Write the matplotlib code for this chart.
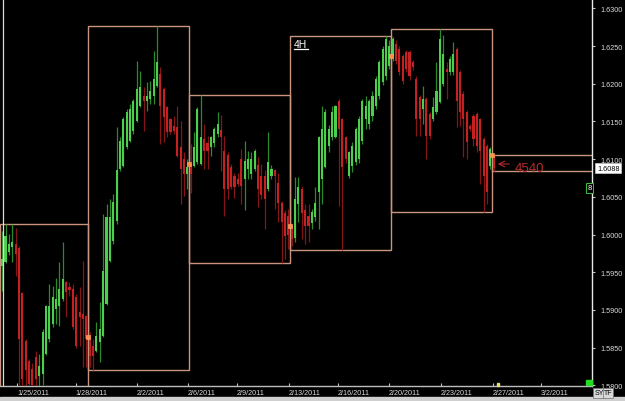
import matplotlib
matplotlib.use('Agg')
import matplotlib.pyplot as plt
from matplotlib.patches import Rectangle
from matplotlib import font_manager
from matplotlib.transforms import blended_transform_factory
import numpy as np

# ---------------- data (4H GBP/USD-style candles) ----------------
opens = [
    1.5958, 1.5964, 1.5977, 1.5983, 1.5987, 1.5982, 1.5922, 1.5859, 1.5832, 1.5822,
    1.5838, 1.5812, 1.5815, 1.5842, 1.5861, 1.5881, 1.5901, 1.5905, 1.5914, 1.5937,
    1.5931, 1.5928, 1.5917, 1.5897, 1.5895, 1.5892,
    1.5864, 1.5852, 1.5846, 1.5857, 1.5866, 1.5908, 1.5965, 1.5991, 1.6018, 1.6087,
    1.6091, 1.6116, 1.6124, 1.6137, 1.6150, 1.6170, 1.6184, 1.6177, 1.6180, 1.6184,
    1.6197, 1.6213, 1.6193, 1.6169, 1.6153, 1.6144, 1.6142, 1.6116, 1.6100, 1.6080,
    1.6094, 1.6091, 1.6096, 1.6093, 1.6127, 1.6122, 1.6116, 1.6122, 1.6134, 1.6138,
    1.6111, 1.6106, 1.6090, 1.6078, 1.6073, 1.6100, 1.6074, 1.6087, 1.6080, 1.6087,
    1.6092, 1.6078, 1.6078, 1.6060, 1.6078, 1.6085, 1.6069, 1.6042, 1.6029, 1.6025,
    1.6011, 1.5996, 1.6040, 1.6060, 1.6033, 1.6025, 1.6015, 1.6023, 1.6056, 1.6073,
    1.6090, 1.6117, 1.6130, 1.6130, 1.6177, 1.6153, 1.6129, 1.6077, 1.6091, 1.6096,
    1.6100, 1.6124, 1.6153, 1.6146, 1.6157, 1.6170, 1.6184, 1.6202, 1.6210, 1.6224,
    1.6237, 1.6253, 1.6246, 1.6237, 1.6242, 1.6242, 1.6229, 1.6206, 1.6182, 1.6166,
    1.6180, 1.6160, 1.6153, 1.6162, 1.6176, 1.6200, 1.6220, 1.6216, 1.6216, 1.6246,
    1.6216, 1.6186, 1.6162, 1.6144, 1.6157, 1.6160, 1.6153, 1.6127, 1.6117, 1.6091,
    1.6105,
]
highs = [
    1.6005, 1.6014, 1.6001, 1.6014, 1.6009, 1.5985, 1.5924, 1.5862, 1.5835, 1.5830,
    1.5845, 1.5842, 1.5875, 1.5907, 1.5934, 1.5932, 1.5942, 1.5964, 1.5990, 1.5938,
    1.5937, 1.5934, 1.5921, 1.5930, 1.5965, 1.5893,
    1.5871, 1.5861, 1.5884, 1.5910, 1.6027, 1.6040, 1.6047, 1.6054, 1.6142, 1.6129,
    1.6156, 1.6166, 1.6173, 1.6180, 1.6230, 1.6217, 1.6196, 1.6202, 1.6203, 1.6243,
    1.6277, 1.6222, 1.6196, 1.6170, 1.6155, 1.6157, 1.6170, 1.6150, 1.6110, 1.6100,
    1.6120, 1.6136, 1.6169, 1.6185, 1.6147, 1.6131, 1.6131, 1.6142, 1.6162, 1.6158,
    1.6131, 1.6109, 1.6093, 1.6081, 1.6081, 1.6113, 1.6124, 1.6111, 1.6109, 1.6113,
    1.6103, 1.6094, 1.6085, 1.6136, 1.6092, 1.6087, 1.6082, 1.6045, 1.6032, 1.6034,
    1.6015, 1.6076, 1.6076, 1.6064, 1.6040, 1.6040, 1.6034, 1.6063, 1.6131, 1.6170,
    1.6166, 1.6145, 1.6170, 1.6172, 1.6180, 1.6155, 1.6131, 1.6111, 1.6123, 1.6143,
    1.6157, 1.6180, 1.6184, 1.6180, 1.6190, 1.6210, 1.6232, 1.6250, 1.6263, 1.6258,
    1.6262, 1.6258, 1.6250, 1.6240, 1.6245, 1.6245, 1.6232, 1.6210, 1.6185, 1.6197,
    1.6182, 1.6162, 1.6183, 1.6229, 1.6273, 1.6264, 1.6229, 1.6237, 1.6255, 1.6249,
    1.6218, 1.6190, 1.6165, 1.6147, 1.6160, 1.6163, 1.6155, 1.6130, 1.6120, 1.6116,
    1.6106,
]
lows = [
    1.5925, 1.5962, 1.5973, 1.5964, 1.5945, 1.5800, 1.5795, 1.5795, 1.5790, 1.5790,
    1.5795, 1.5798, 1.5800, 1.5840, 1.5858, 1.5878, 1.5881, 1.5879, 1.5912, 1.5891,
    1.5918, 1.5875, 1.5850, 1.5852, 1.5824, 1.5824,
    1.5824, 1.5820, 1.5844, 1.5831, 1.5864, 1.5906, 1.5963, 1.5988, 1.6014, 1.6084,
    1.6090, 1.6113, 1.6123, 1.6134, 1.6149, 1.6169, 1.6137, 1.6164, 1.6173, 1.6173,
    1.6196, 1.6120, 1.6123, 1.6129, 1.6133, 1.6133, 1.6103, 1.6040, 1.6051, 1.6060,
    1.6055, 1.6090, 1.6094, 1.6092, 1.6087, 1.6087, 1.6104, 1.6116, 1.6130, 1.6084,
    1.6025, 1.6047, 1.6060, 1.6049, 1.6065, 1.6040, 1.6032, 1.6074, 1.6074, 1.6084,
    1.6036, 1.6047, 1.6007, 1.6058, 1.6074, 1.6034, 1.6016, 1.5962, 1.5968, 1.5981,
    1.5985, 1.5990, 1.6017, 1.5994, 1.5987, 1.5990, 1.6007, 1.6018, 1.6007, 1.6040,
    1.6088, 1.6110, 1.6125, 1.6128, 1.6038, 1.5980, 1.6095, 1.6075, 1.6083, 1.6092,
    1.6095, 1.6120, 1.6140, 1.6140, 1.6150, 1.6166, 1.6180, 1.6198, 1.6205, 1.6220,
    1.6230, 1.6226, 1.6212, 1.6200, 1.6215, 1.6205, 1.6218, 1.6131, 1.6131, 1.6147,
    1.6100, 1.6127, 1.6150, 1.6160, 1.6174, 1.6197, 1.6180, 1.6212, 1.6212, 1.6143,
    1.6144, 1.6103, 1.6100, 1.6137, 1.6117, 1.6109, 1.6067, 1.6030, 1.6040, 1.6087,
    1.6084,
]
closes = [
    1.5968, 1.5998, 1.5987, 1.5990, 1.5974, 1.5861, 1.5808, 1.5820, 1.5802, 1.5800,
    1.5808, 1.5826, 1.5871, 1.5905, 1.5905, 1.5917, 1.5914, 1.5928, 1.5941, 1.5924,
    1.5926, 1.5877, 1.5852, 1.5891, 1.5888, 1.5861,
    1.5839, 1.5839, 1.5866, 1.5875, 1.5952, 1.6023, 1.6023, 1.6043, 1.6085, 1.6124,
    1.6153, 1.6162, 1.6166, 1.6177, 1.6193, 1.6196, 1.6177, 1.6184, 1.6191, 1.6206,
    1.6229, 1.6170, 1.6156, 1.6136, 1.6136, 1.6137, 1.6104, 1.6087, 1.6080, 1.6090,
    1.6080, 1.6116, 1.6166, 1.6130, 1.6111, 1.6111, 1.6129, 1.6140, 1.6147, 1.6129,
    1.6060, 1.6060, 1.6063, 1.6063, 1.6067, 1.6065, 1.6098, 1.6100, 1.6100, 1.6111,
    1.6060, 1.6052, 1.6047, 1.6096, 1.6087, 1.6078, 1.6042, 1.6016, 1.5998, 1.6000,
    1.5994, 1.6047, 1.6063, 1.6029, 1.6011, 1.6011, 1.6030, 1.6042, 1.6130, 1.6140,
    1.6162, 1.6140, 1.6162, 1.6170, 1.6140, 1.6090, 1.6100, 1.6109, 1.6117, 1.6140,
    1.6153, 1.6177, 1.6170, 1.6177, 1.6184, 1.6206, 1.6229, 1.6246, 1.6259, 1.6250,
    1.6259, 1.6230, 1.6216, 1.6204, 1.6220, 1.6210, 1.6222, 1.6153, 1.6153, 1.6180,
    1.6131, 1.6131, 1.6169, 1.6190, 1.6259, 1.6239, 1.6216, 1.6233, 1.6239, 1.6177,
    1.6162, 1.6153, 1.6123, 1.6140, 1.6127, 1.6117, 1.6111, 1.6078, 1.6056, 1.6113,
    1.6088,
]
week_starts = [0, 26, 56, 86, 116, 146]          # first bar of each weekly box
x_tick_pos = [4.9, 22.4, 40.5, 55.7, 70.2, 85.7, 100.2, 115.4, 130.8, 146.3, 160.5]
x_tick_labels = ['1/25/2011', '1/28/2011', '2/2/2011', '2/6/2011', '2/9/2011',
                 '2/13/2011', '2/16/2011', '2/20/2011', '2/23/2011', '2/27/2011',
                 '3/2/2011']
y_ticks = [1.5800, 1.5850, 1.5900, 1.5950, 1.6000, 1.6050,
           1.6100, 1.6150, 1.6200, 1.6250, 1.6300]
last_price = 1.6088
timeframe_label = '4H'
range_label = '4540'

# ---------------- fonts ----------------
def have(fam):
    try:
        font_manager.findfont(font_manager.FontProperties(family=fam), fallback_to_default=False)
        return True
    except Exception:
        return False

narrow = 'Liberation Sans Narrow' if have('Liberation Sans Narrow') else 'Liberation Sans'
nsize = 6 if narrow == 'Liberation Sans Narrow' else 5.2

# ---------------- figure ----------------
W, H = 625, 402
fig = plt.figure(figsize=(W / 100, H / 100), dpi=100, facecolor='black')
AXW, AXH = 592, 387
ax = fig.add_axes([0, (H - AXH) / H, AXW / W, AXH / H])
ax.set_facecolor('black')

o = np.array(opens); h = np.array(highs); l = np.array(lows); c = np.array(closes)
n = len(o)
x = np.arange(n) + 0.5
up = c >= o

green_body, green_wick = '#4ccf4c', '#2b8a2b'
red_body, red_wick = '#c42222', '#861616'

ax.vlines(x, l, h, colors=np.where(up, green_wick, red_wick), lw=0.9, zorder=3)
body_bot = np.minimum(o, c)
body_h = np.maximum(np.abs(c - o), 0.00012)
ax.bar(x, body_h, bottom=body_bot, width=0.62,
       color=np.where(up, green_body, red_body), linewidth=0, zorder=4)

XL, XR = -0.14, 175.7
ax.set_xlim(XL, XR)
ax.set_ylim(1.57991, 1.63124)

# weekly boxes
box_color = '#c9957f'
bounds = week_starts + [n]
for k in range(len(week_starts)):
    s, e = bounds[k], bounds[k + 1]
    hi, lo = h[s:e].max(), l[s:e].min()
    right = e if k < len(week_starts) - 1 else XR + 5
    ax.add_patch(Rectangle((s, lo), right - s, hi - lo, fill=False,
                           ec=box_color, lw=1.0, zorder=2))
    if k > 0:
        ax.plot([s], [o[s]], marker='s', ms=2.6, color='#ff9040',
                mec='#ffb070', mew=0.4, zorder=6)

# left white line
ax.plot([2.7 / AXW] * 2, [0, 1], transform=ax.transAxes, color='#dcdcdc', lw=0.9, zorder=5)

# axes styling
for sp in ['top', 'left']:
    ax.spines[sp].set_visible(False)
ax.spines['right'].set_color('#e8e8e8'); ax.spines['right'].set_linewidth(1.0)
ax.spines['bottom'].set_color('#bdbdbd'); ax.spines['bottom'].set_linewidth(1.0)

ax.set_xticks(x_tick_pos)
ax.set_xticklabels(x_tick_labels, fontfamily=narrow, fontsize=nsize, color='#dadada', ha='left')
ax.tick_params(axis='x', direction='in', length=2.5, width=0.8, color='#c0c0c0', pad=2.5)

ax.yaxis.tick_right()
ax.set_yticks(y_ticks)
ax.set_yticklabels([f'{v:.4f}' for v in y_ticks], fontfamily=narrow, fontsize=nsize, color='#dadada')
ax.tick_params(axis='y', direction='out', length=2.2, width=0.8, color='#c0c0c0', pad=3.5)

# timeframe label with underline
ax.text(294 / AXW, 1 - 47.5 / AXH, timeframe_label, transform=ax.transAxes,
        color='white', fontsize=7.5, fontfamily='Liberation Sans', va='baseline', ha='left', zorder=7)
ax.plot([294 / AXW, 308 / AXW], [1 - 49.5 / AXH] * 2, transform=ax.transAxes,
        color='white', lw=0.9, zorder=7)

# range annotation
ax.text(515 / AXW, 1 - 172.5 / AXH, range_label, transform=ax.transAxes,
        color='#b52a2a', fontsize=9.5, fontfamily='Liberation Sans', va='baseline', ha='left', zorder=7)
ax.annotate('', xy=(495 / AXW, 1 - 165 / AXH), xytext=(512 / AXW, 1 - 165 / AXH),
            xycoords='axes fraction', textcoords='axes fraction',
            arrowprops=dict(arrowstyle='->', color='#b52a2a', lw=0.8), zorder=7)

# last price tag on the axis
bt = blended_transform_factory(ax.transAxes, ax.transData)
ax.text(597 / AXW, last_price, f'{last_price:.4f}', transform=bt, fontfamily=narrow,
        fontsize=nsize, color='black', va='center', ha='left', clip_on=False,
        bbox=dict(boxstyle='square,pad=0.25', fc='white', ec='#cccccc', lw=0.5), zorder=8)

# small widgets
ax.text(589.5 / AXW, 1 - 189 / AXH, '8', transform=ax.transAxes, fontfamily=narrow,
        fontsize=5.5, color='white', ha='center', va='center', clip_on=False,
        bbox=dict(boxstyle='square,pad=0.15', fc='black', ec='#3cbf3c', lw=0.7), zorder=8)
ax.add_patch(Rectangle((586 / AXW, 1.5 / AXH), 6 / AXW, 5 / AXH, transform=ax.transAxes,
                       color='#22dd22', zorder=8, clip_on=False))
ax.add_patch(Rectangle((497 / AXW, 0), 2.2 / AXW, 3.5 / AXH, transform=ax.transAxes,
                       color='#e8e070', zorder=8, clip_on=False))

# bottom status strip and buttons
fig.patches.append(Rectangle((0, 0), 1, 4 / H, transform=fig.transFigure,
                             color='#cfcfcf', zorder=0))
for lbl, px in [('SY', 599), ('TF', 608)]:
    fig.text(px / W, 1 - 394 / H, lbl, fontfamily=narrow, fontsize=5, color='black',
             ha='center', va='center',
             bbox=dict(boxstyle='square,pad=0.15', fc='#d8d8d8', ec='#707070', lw=0.5))

fig.savefig('out.png', dpi=100, facecolor='black')
